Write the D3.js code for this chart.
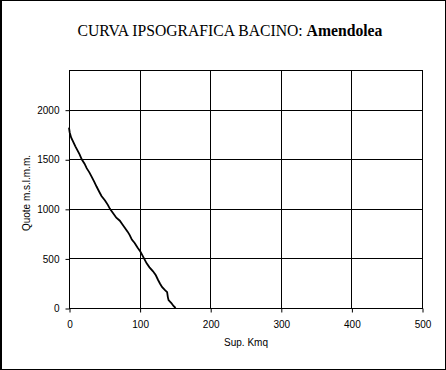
<!DOCTYPE html>
<html>
<head>
<meta charset="utf-8">
<script src="https://cdn.jsdelivr.net/npm/d3@7"></script>
<style>
  body { margin: 0; background: #fff; }
  svg { display: block; }
</style>
</head>
<body>
<div id="chart"></div>
<script>
// hypsographic curve: area (km2) vs elevation (m)
var areaKmq = [0, 1, 3, 6, 9, 12, 15, 18, 22, 25, 29, 32, 36, 39, 43, 46, 51, 55, 58, 62,
    67, 72, 75, 80, 83, 86, 89, 93, 97, 101, 104, 107, 110, 114, 119, 123, 126, 129, 132,
    136, 139, 140, 141, 145, 148, 151];
var quote = [1820, 1770, 1720, 1676, 1630, 1590, 1550, 1500, 1455, 1410, 1365, 1325, 1270,
    1225, 1170, 1130, 1085, 1040, 1000, 960, 910, 880, 850, 800, 770, 735, 690, 655, 610,
    570, 530, 490, 450, 410, 370, 330, 285, 245, 210, 180, 160, 110, 80, 50, 20, 0];
var xTicks = [0, 100, 200, 300, 400, 500];
var yTicks = [0, 500, 1000, 1500, 2000];

var W = 446, H = 370;
var plotL = 69, plotR = 422, plotT = 70, plotB = 308;

var svg = d3.select("#chart").append("svg").attr("width", W).attr("height", H);

// outer frame
svg.append("rect").attr("x", 0.5).attr("y", 0.5).attr("width", W - 1).attr("height", H - 1)
    .style("fill", "none").style("stroke", "#000");
svg.append("line").attr("x1", 1.5).attr("x2", 1.5).attr("y1", 0).attr("y2", H)
    .style("stroke", "#000");

var xScale = d3.scaleLinear().domain([0, 500]).range([plotL, plotR]);
var yScale = d3.scaleLinear().domain([0, 2400]).range([plotB, plotT]);

// grid
svg.selectAll("line.gy").data(yTicks.slice(1)).enter().append("line")
    .attr("x1", plotL).attr("x2", plotR)
    .attr("y1", function(d) { return Math.round(yScale(d)) + 0.5; })
    .attr("y2", function(d) { return Math.round(yScale(d)) + 0.5; })
    .style("stroke", "#000");
svg.selectAll("line.gx").data(xTicks.slice(1, -1)).enter().append("line")
    .attr("y1", plotT).attr("y2", plotB)
    .attr("x1", function(d) { return Math.round(xScale(d)) + 0.5; })
    .attr("x2", function(d) { return Math.round(xScale(d)) + 0.5; })
    .style("stroke", "#000");

// plot frame
svg.append("rect").attr("x", plotL + 0.5).attr("y", plotT + 0.5)
    .attr("width", plotR - plotL).attr("height", plotB - plotT)
    .style("fill", "none").style("stroke", "#000");

// axes
var xAxis = d3.axisBottom(xScale).tickValues(xTicks).tickSize(4).tickPadding(8)
    .tickFormat(d3.format("d"));
var yAxis = d3.axisLeft(yScale).tickValues(yTicks).tickSize(4).tickPadding(6)
    .tickFormat(d3.format("d"));

var gx = svg.append("g").attr("transform", "translate(0.5," + (plotB + 0.5) + ")").call(xAxis);
var gy = svg.append("g").attr("transform", "translate(" + (plotL + 0.5) + ",0.5)").call(yAxis);
[gx, gy].forEach(function(g) {
    g.select(".domain").remove();
    g.selectAll("line").style("stroke", "#000");
    g.selectAll("text").style("font-family", "Liberation Sans, Arial, sans-serif")
        .style("font-size", "10px").style("fill", "#000");
});

// curve
var line = d3.line()
    .x(function(d, i) { return xScale(areaKmq[i]); })
    .y(function(d) { return yScale(d); });
svg.append("path").datum(quote).attr("d", line)
    .style("fill", "none").style("stroke", "#000").style("stroke-width", 1.8);

// title
var title = svg.append("text").attr("x", 230).attr("y", 36).attr("text-anchor", "middle")
    .style("font-family", "Liberation Serif, Times New Roman, serif").style("font-size", "15.7px");
title.append("tspan").text("CURVA IPSOGRAFICA BACINO: ");
title.append("tspan").style("font-weight", "bold").text("Amendolea");

// axis titles
svg.append("text").attr("x", 246).attr("y", 346).attr("text-anchor", "middle")
    .style("font-family", "Liberation Sans, Arial, sans-serif").style("font-size", "10px")
    .text("Sup. Kmq");
svg.append("text").attr("transform", "translate(30,193) rotate(-90)").attr("text-anchor", "middle")
    .style("font-family", "Liberation Sans, Arial, sans-serif").style("font-size", "10px")
    .text("Quote m.s.l.m.m.");
</script>
</body>
</html>
